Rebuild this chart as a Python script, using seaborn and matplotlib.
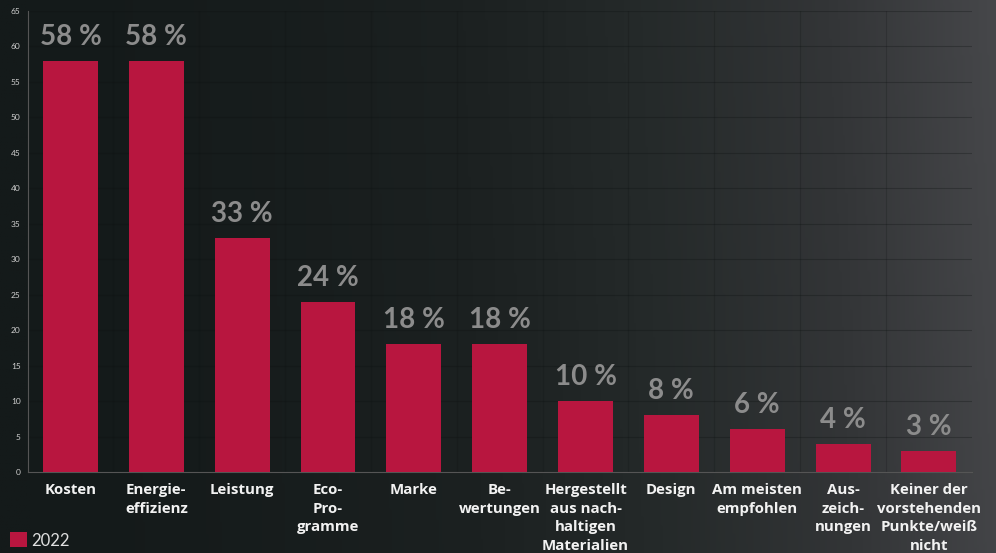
import numpy as np
import pandas as pd
import matplotlib
matplotlib.use("Agg")
import matplotlib.pyplot as plt
from matplotlib.colors import LinearSegmentedColormap
from matplotlib.patches import Patch
import seaborn as sns

categories = [
    "Kosten", "Energie-\neffizienz", "Leistung", "Eco-\nPro-\ngramme", "Marke",
    "Be-\nwertungen", "Hergestellt\naus nach-\nhaltigen\nMaterialien", "Design",
    "Am meisten\nempfohlen", "Aus-\nzeich-\nnungen",
    "Keiner der\nvorstehenden\nPunkte/weiß\nnicht",
]
values = [58, 58, 33, 24, 18, 18, 10, 8, 6, 4, 3]
series_name = "2022"
y_ticks = list(range(0, 70, 5))

bar_color = "#b8163f"
label_gray = "#8c8c8c"
text_white = "#f2f2f2"

sns.set_theme(style="dark")
plt.rcParams["font.family"] = ["Lato", "DejaVu Sans"]

fig = plt.figure(figsize=(9.96, 5.53), dpi=100)

# dark gradient backdrop, getting lighter towards the right
bg = fig.add_axes([0, 0, 1, 1], zorder=-10)
bg.set_axis_off()
xx = np.linspace(0, 1, 400)
yy = np.linspace(0, 1, 200)
X, Y = np.meshgrid(xx, yy)
T = np.clip(X ** 1.6 * 0.96 + (1 - Y) * 0.04 * X, 0, 1)
cmap = LinearSegmentedColormap.from_list(
    "bg", [(0, "#141a1a"), (0.3, "#1c2121"), (0.5, "#252a2a"), (0.75, "#333537"), (1, "#46474a")])
bg.imshow(T, cmap=cmap, aspect="auto", extent=[0, 1, 0, 1], origin="upper", vmin=0, vmax=1)

ax = fig.add_axes([0.0277, 0.1465, 0.948, 0.8336])
ax.set_facecolor("none")

df = pd.DataFrame({"Kategorie": categories, "Anteil": values})
sns.barplot(data=df, x="Kategorie", y="Anteil", color=bar_color, width=0.64,
            saturation=1, ax=ax, zorder=3, edgecolor="none", linewidth=0)

ax.set_ylim(0, 65)
ax.set_xlim(-0.5, len(categories) - 0.5)
ax.set_yticks(y_ticks)
ax.set_yticklabels([str(t) for t in y_ticks], fontsize=6, color="#d0d0d0")
ax.set_xlabel("")
ax.set_ylabel("")
ax.set_xticks(range(len(categories)))
ax.set_xticklabels(categories, fontsize=10.8, fontweight="bold", color=text_white,
                   family=["Open Sans", "DejaVu Sans"],
                   linespacing=1.42, va="top", ha="center", multialignment="center")
ax.tick_params(axis="x", length=3, color="#555555", pad=5)
ax.tick_params(axis="y", length=3, color="#555555", pad=2)

# faint grid: horizontal at each tick, vertical between categories
for t in y_ticks[1:]:
    ax.axhline(t, color="#0e1212", lw=0.8, alpha=0.3, zorder=1)
for b in np.arange(0.5, len(categories) - 0.5, 1):
    ax.axvline(b, color="#0e1212", lw=0.8, alpha=0.22, zorder=1)

for s in ["top", "right"]:
    ax.spines[s].set_visible(False)
for s in ["left", "bottom"]:
    ax.spines[s].set_color("#555555")
    ax.spines[s].set_linewidth(0.8)

for i, v in enumerate(values):
    ax.annotate(f"{v} %", (i, v), xytext=(0, 8), textcoords="offset points",
                ha="center", va="bottom", fontsize=20, fontweight="bold",
                color=label_gray, zorder=4)

leg = fig.legend(handles=[Patch(facecolor=bar_color, edgecolor="none", label=series_name)],
                 loc="lower left", bbox_to_anchor=(0.0, -0.01), frameon=False,
                 fontsize=12, handlelength=1.0, handleheight=1.0, handletextpad=0.3,
                 borderaxespad=0.2)
for txt in leg.get_texts():
    txt.set_color("#e0e0e0")

fig.savefig("out.png", dpi=100)
